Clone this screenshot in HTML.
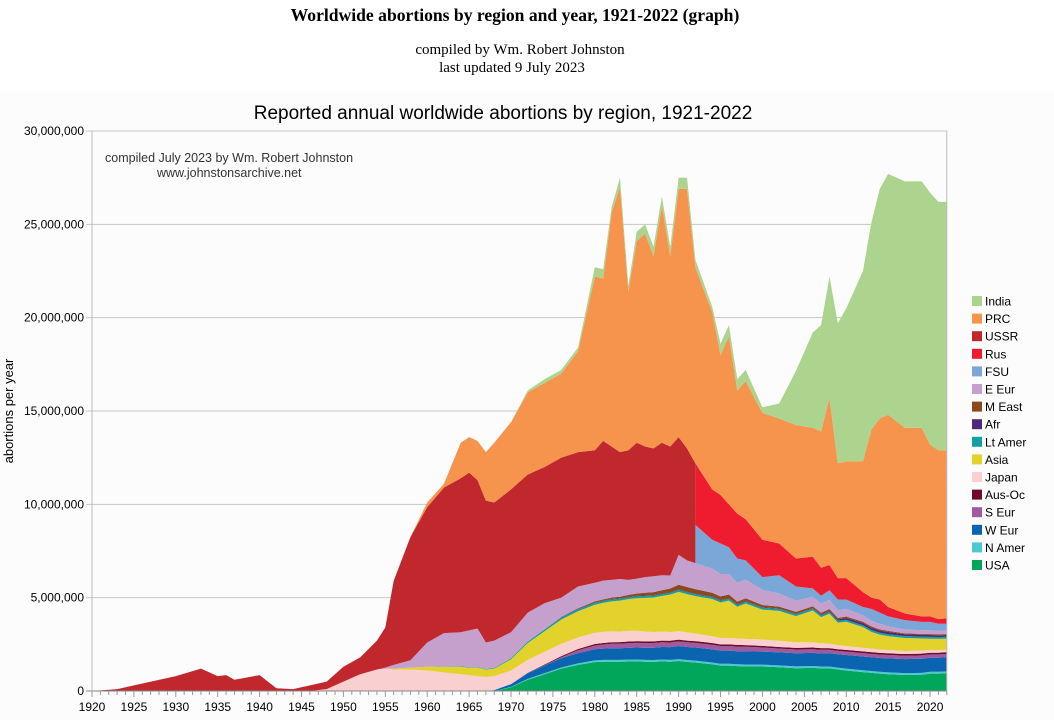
<!DOCTYPE html>
<html><head><meta charset="utf-8"><style>
html,body{margin:0;padding:0;background:#fff;width:1054px;height:720px;overflow:hidden}
svg{display:block}
</style></head><body>
<svg id="chart" width="1054" height="720" xmlns="http://www.w3.org/2000/svg">
<rect x="0" y="90" width="1054" height="630" fill="#fcfcfc"/>
<text x="515" y="21" text-anchor="middle" font-family="Liberation Serif, serif" font-size="17.6" font-weight="bold" fill="#000">Worldwide abortions by region and year, 1921-2022 (graph)</text>
<text x="520" y="54" text-anchor="middle" font-family="Liberation Serif, serif" font-size="15" fill="#000">compiled by Wm. Robert Johnston</text>
<text x="512" y="72" text-anchor="middle" font-family="Liberation Serif, serif" font-size="15" fill="#000">last updated 9 July 2023</text>
<text x="503" y="119" text-anchor="middle" font-family="Liberation Sans, sans-serif" font-size="19" fill="#000">Reported annual worldwide abortions by region, 1921-2022</text>
<g id="grid"></g>
<g id="areas"></g>
<g id="axes"></g>
<g id="legend"></g>
<text x="105" y="162" font-family="Liberation Sans, sans-serif" font-size="12.5" fill="#333">compiled July 2023 by Wm. Robert Johnston</text>
<text x="157" y="177" font-family="Liberation Sans, sans-serif" font-size="12.5" fill="#333">www.johnstonsarchive.net</text>
<text transform="translate(13,411) rotate(-90)" text-anchor="middle" font-family="Liberation Sans, sans-serif" font-size="13" fill="#000">abortions per year</text>
</svg>
<script>
const years = [1920,1923,1925,1930,1933, 1935,1936,1937,1940,1942, 1944,1946,1948,1950,1952, 1954,1955,1956,1958,1960, 1962,1964,1965,1966,1967, 1968,1970,1972,1974,1976, 1978,1980,1981,1982,1983, 1984,1985,1986,1987,1988, 1989,1990,1991,1992,1992, 1994,1995,1996,1997,1998, 2000,2002,2004,2006,2007, 2008,2009,2010,2012,2013, 2014,2015,2017,2019,2020, 2021,2022];
const seriesNames = ["USA","N Amer","W Eur","S Eur","Aus-Oc","Japan","Asia","Lt Amer","Afr","M East","E Eur","FSU","Rus","USSR","PRC","India"];
const seriesColors = ["#00a65a","#4cc8d0","#0a64b0","#a05aa0","#6f0a2a","#f9cfcf","#e3d12c","#14a0a0","#4b2a7c","#8b4a1c","#c6a0cc","#7ba7d8","#ee1c2e","#c0282e","#f6944e","#acd48e"];
// values in millions
const usa = [0,0,0,0,0, 0,0,0,0,0, 0,0,0,0,0, 0,0,0,0,0, 0,0,0,0,0, 0,0.2,0.6,0.9,1.2, 1.4,1.55,1.57,1.57,1.57, 1.58,1.59,1.57,1.56,1.59, 1.57,1.61,1.56,1.53,1.53, 1.43,1.36,1.36,1.33,1.32, 1.31,1.27,1.22,1.24,1.21, 1.21,1.15,1.1,1.01,0.97, 0.93,0.9,0.86,0.87,0.93, 0.93,0.95];
const nAmer = [0,0,0,0,0, 0,0,0,0,0, 0,0,0,0,0, 0,0,0,0,0, 0,0,0,0,0, 0,0.02,0.05,0.06,0.06, 0.08,0.09,0.1,0.1,0.1, 0.1,0.1,0.1,0.1,0.1, 0.1,0.1,0.1,0.1,0.1, 0.1,0.1,0.1,0.1,0.1, 0.1,0.1,0.1,0.1,0.1, 0.1,0.1,0.1,0.1,0.1, 0.1,0.1,0.1,0.1,0.1, 0.1,0.1];
const wEur = [0,0,0,0,0, 0,0,0,0,0, 0,0,0,0,0, 0,0,0,0,0, 0,0,0,0,0, 0.05,0.15,0.3,0.4,0.5, 0.55,0.6,0.6,0.62,0.62, 0.63,0.64,0.65,0.66,0.67, 0.68,0.7,0.7,0.7,0.7, 0.7,0.7,0.7,0.7,0.7, 0.7,0.7,0.7,0.7,0.7, 0.72,0.72,0.73,0.74,0.74, 0.74,0.75,0.75,0.76,0.75, 0.75,0.76];
const sEur = [0,0,0,0,0, 0,0,0,0,0, 0,0,0,0,0, 0,0,0,0,0, 0,0,0,0,0, 0,0,0,0.02,0.05, 0.15,0.2,0.22,0.24,0.25, 0.25,0.25,0.25,0.25,0.25, 0.25,0.25,0.25,0.25,0.25, 0.25,0.25,0.25,0.25,0.25, 0.22,0.2,0.2,0.2,0.2, 0.18,0.18,0.18,0.18,0.18, 0.18,0.18,0.18,0.18,0.18, 0.18,0.18];
const ausOc = [0,0,0,0,0, 0,0,0,0,0, 0,0,0,0,0, 0,0,0,0,0, 0,0,0,0,0, 0,0,0.02,0.04,0.06, 0.07,0.08,0.08,0.08,0.08, 0.09,0.09,0.09,0.09,0.09, 0.09,0.09,0.09,0.09,0.09, 0.09,0.09,0.09,0.09,0.09, 0.09,0.09,0.09,0.09,0.09, 0.09,0.09,0.09,0.09,0.09, 0.09,0.09,0.09,0.09,0.09, 0.09,0.09];
const japan = [0,0,0,0,0, 0,0,0,0,0, 0,0,0.1,0.5,0.9, 1.15,1.2,1.15,1.15,1.1, 1.0,0.9,0.85,0.8,0.75, 0.75,0.73,0.7,0.68,0.66, 0.62,0.6,0.6,0.59,0.57, 0.57,0.55,0.53,0.5,0.49, 0.47,0.46,0.44,0.41,0.41, 0.36,0.34,0.34,0.34,0.33, 0.34,0.33,0.3,0.28,0.26, 0.24,0.22,0.21,0.2,0.19, 0.18,0.17,0.16,0.16,0.15, 0.14,0.12];
const asia = [0,0,0,0,0, 0,0,0,0,0, 0,0,0,0,0, 0,0,0.05,0.1,0.2, 0.3,0.4,0.4,0.45,0.4, 0.4,0.6,0.9,1.1,1.3, 1.4,1.5,1.55,1.6,1.65, 1.7,1.75,1.8,1.85,1.9, 2.0,2.1,2.05,2.0,2.0, 2.0,1.9,2.0,1.7,1.9, 1.6,1.6,1.4,1.7,1.4, 1.6,1.2,1.3,1.1,0.9, 0.8,0.75,0.7,0.65,0.6, 0.6,0.6];
const ltAmer = [0,0,0,0,0, 0,0,0,0,0, 0,0,0,0,0, 0,0,0,0,0, 0.02,0.03,0.03,0.03,0.03, 0.04,0.06,0.08,0.1,0.1, 0.1,0.1,0.1,0.1,0.1, 0.1,0.1,0.1,0.1,0.1, 0.1,0.1,0.1,0.1,0.1, 0.1,0.1,0.1,0.1,0.1, 0.1,0.1,0.1,0.1,0.1, 0.1,0.1,0.1,0.1,0.1, 0.1,0.1,0.1,0.1,0.1, 0.1,0.1];
const afr = [0,0,0,0,0, 0,0,0,0,0, 0,0,0,0,0, 0,0,0,0,0, 0,0,0,0,0, 0,0,0,0,0.02, 0.03,0.03,0.03,0.03,0.03, 0.03,0.03,0.03,0.03,0.03, 0.03,0.03,0.03,0.03,0.03, 0.03,0.03,0.03,0.03,0.03, 0.03,0.03,0.03,0.03,0.03, 0.05,0.08,0.1,0.12,0.12, 0.12,0.12,0.1,0.1,0.1, 0.1,0.1];
const mEast = [0,0,0,0,0, 0,0,0,0,0, 0,0,0,0,0, 0,0,0,0,0, 0,0,0,0,0, 0,0,0,0,0.02, 0.03,0.05,0.06,0.07,0.08, 0.1,0.12,0.14,0.16,0.18, 0.2,0.25,0.25,0.25,0.25, 0.2,0.2,0.2,0.15,0.15, 0.12,0.1,0.1,0.1,0.1, 0.1,0.08,0.08,0.07,0.07, 0.06,0.06,0.05,0.05,0.05, 0.05,0.05];
const eEur = [0,0,0,0,0, 0,0,0,0,0, 0,0,0,0,0, 0,0.05,0.2,0.4,1.3, 1.78,1.82,1.97,2.07,1.42, 1.46,1.39,1.55,1.4,1.03, 1.17,1.0,1.0,0.95,0.95, 0.8,0.8,0.84,0.85,0.8, 0.7,1.6,1.43,1.39,1.39, 1.3,1.2,1.1,1.0,1.0, 0.8,0.7,0.6,0.5,0.5, 0.5,0.4,0.4,0.35,0.3, 0.3,0.25,0.2,0.2,0.2, 0.2,0.2];
const fsu = [0,0,0,0,0, 0,0,0,0,0, 0,0,0,0,0, 0,0,0,0,0, 0,0,0,0,0, 0,0,0,0,0, 0,0,0,0,0, 0,0,0,0,0, 0,0,0,0,2.05, 1.54,1.63,1.43,1.31,1.03, 0.69,0.98,0.76,0.46,0.41, 0.51,0.58,0.51,0.44,0.64, 0.6,0.53,0.51,0.44,0.45, 0.36,0.35];
const rus = [0,0,0,0,0, 0,0,0,0,0, 0,0,0,0,0, 0,0,0,0,0, 0,0,0,0,0, 0,0,0,0,0, 0,0,0,0,0, 0,0,0,0,0, 0,0,0,0,3.3, 2.7,2.6,2.3,2.4,2.2, 2.0,1.7,1.5,1.7,1.5, 1.35,1.15,1.15,0.8,0.6, 0.7,0.5,0.35,0.3,0.3, 0.25,0.3];
const ussr = [0,0.1,0.3,0.8,1.2, 0.8,0.85,0.6,0.85,0.15, 0.1,0.3,0.4,0.8,0.9, 1.55,2.15,4.5,6.6,7.25, 7.8,8.25,8.45,7.95,7.6, 7.4,7.65,7.4,7.3,7.5, 7.2,7.1,7.49,7.15,6.8, 6.95,7.28,7.0,6.85,7.1, 6.91,6.31,6.0,5.35,0, 0,0,0,0,0, 0,0,0,0,0, 0,0,0,0,0, 0,0,0,0,0, 0,0];
const prc = [0,0,0,0,0, 0,0,0,0,0, 0,0,0,0,0, 0,0,0,0,0.25, 0.2,1.9,1.9,2.1,2.6, 3.2,3.6,4.4,4.5,4.5, 5.4,9.3,8.7,12.5,14.2, 8.5,10.8,11.4,10.3,12.7, 10.2,13.3,13.9,10.5,10.5, 9.5,7.5,9.0,6.6,7.4, 6.8,6.7,7.15,6.9,7.3, 8.95,6.15,6.25,7.0,9.0, 9.7,10.3,9.95,10.1,9.2, 9.05,9.0];
const india = [0,0,0,0,0, 0,0,0,0,0, 0,0,0,0,0, 0,0,0,0,0, 0,0,0,0,0, 0,0,0.1,0.2,0.2, 0.2,0.5,0.5,0.3,0.5, 0.3,0.5,0.5,0.5,0.5, 0.5,0.6,0.6,0.4,0.4, 0.3,0.6,0.6,0.6,0.6, 0.3,0.8,2.9,5.1,5.7, 6.5,7.5,8.2,10.2,11.1, 12.3,12.9,13.2,13.2,13.5, 13.3,13.3];
const yTicks = [0,5,10,15,20,25,30];
const yTickLabels = ["0","5,000,000","10,000,000","15,000,000","20,000,000","25,000,000","30,000,000"];
const xTickYears = [1920,1925,1930,1935,1940,1945,1950,1955,1960,1965,1970,1975,1980,1985,1990,1995,2000,2005,2010,2015,2020];

const NS = "http://www.w3.org/2000/svg";
const X0 = 92, X1 = 946.8, Y0 = 691, Y1 = 131;
const xScale = yr => X0 + (yr - 1920) * (X1 - X0) / 102;
const yScale = v => Y0 - v * (Y0 - Y1) / 30;
function mk(tag, attrs, parent) { const e = document.createElementNS(NS, tag); for (const k in attrs) e.setAttribute(k, attrs[k]); parent.appendChild(e); return e; }

const grid = document.getElementById('grid');
yTicks.forEach((t, i) => {
  const ln = mk('line', {x1: X0 - 6, x2: X1, y1: yScale(t), y2: yScale(t), stroke: i === 0 ? '#888' : '#c6c6c6', 'stroke-width': 1}, grid);
  
  
  const tx = mk('text', {x: 84, y: yScale(t) + 4, 'text-anchor': 'end', 'font-family': 'Liberation Sans, sans-serif', 'font-size': 12, fill: '#000'}, grid);
  tx.textContent = yTickLabels[i];
  
  
});

const allSeries = [usa, nAmer, wEur, sEur, ausOc, japan, asia, ltAmer, afr, mEast, eEur, fsu, rus, ussr, prc, india];
const areas = document.getElementById('areas');
const base = years.map(() => 0);
allSeries.forEach((vals, s) => {
  const top = base.map((b, i) => b + vals[i]);
  let d = '';
  years.forEach((yr, i) => { d += (i ? 'L' : 'M') + xScale(yr).toFixed(2) + ',' + yScale(top[i]).toFixed(2); });
  for (let i = years.length - 1; i >= 0; i--) d += 'L' + xScale(years[i]).toFixed(2) + ',' + yScale(base[i]).toFixed(2);
  d += 'Z';
  const p = mk('path', {d: d, fill: seriesColors[s], stroke: 'none'}, areas);
  
  
  top.forEach((v, i) => base[i] = v);
});

const axes = document.getElementById('axes');
const la = mk('line', {x1: X0, x2: X0, y1: Y1, y2: Y0, stroke: '#bbb', 'stroke-width': 1}, axes);


const rb = mk('line', {x1: X1, x2: X1, y1: Y1, y2: Y0, stroke: '#bbb', 'stroke-width': 1}, axes);


const xa = mk('line', {x1: X0, x2: X1, y1: Y0, y2: Y0, stroke: '#888', 'stroke-width': 1}, axes);


for (let yr = 1920; yr <= 2022; yr++) {
  const tk = mk('line', {x1: xScale(yr), x2: xScale(yr), y1: Y0, y2: Y0 + (yr % 5 === 0 ? 6 : 4), stroke: '#999', 'stroke-width': 1}, axes);
  
  
}
xTickYears.forEach(yr => {
  const tx = mk('text', {x: xScale(yr), y: 711, 'text-anchor': 'middle', 'font-family': 'Liberation Sans, sans-serif', 'font-size': 12, fill: '#000'}, axes);
  tx.textContent = String(yr);
  
  
});

const legend = document.getElementById('legend');
for (let k = 0; k < seriesNames.length; k++) {
  const s = seriesNames.length - 1 - k;
  const cy = 301 + k * 17.6;
  const g = mk('g', {}, legend);
  
  
  mk('rect', {x: 972, y: cy - 5, width: 10, height: 10, fill: seriesColors[s]}, g);
  const tx = mk('text', {x: 985, y: cy + 4.5, 'font-family': 'Liberation Sans, sans-serif', 'font-size': 12, fill: '#000'}, g);
  tx.textContent = seriesNames[s];
}
</script>
</body></html>
